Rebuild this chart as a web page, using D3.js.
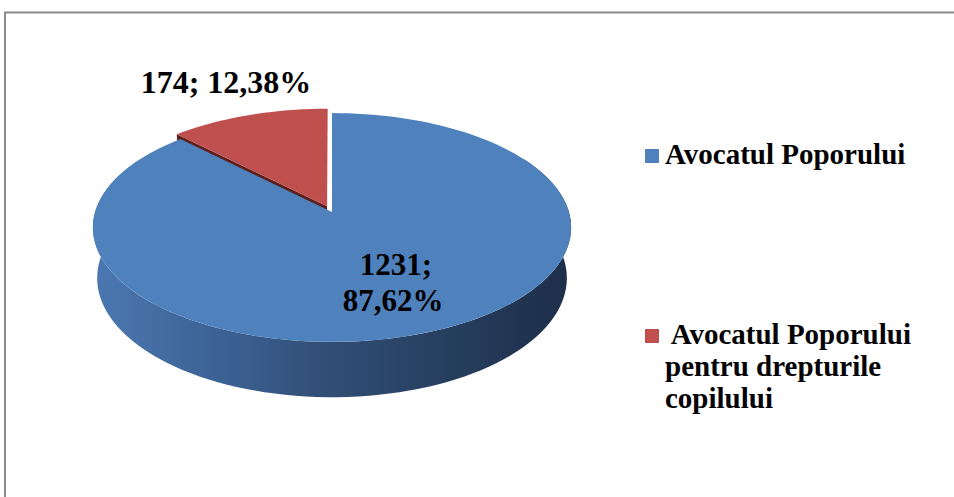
<!DOCTYPE html>
<html>
<head>
<meta charset="utf-8">
<script src="https://cdn.jsdelivr.net/npm/d3@7"></script>
<style>
  html, body { margin: 0; padding: 0; background: #ffffff; }
  svg { display: block; }
</style>
</head>
<body>
<svg id="chart" width="954" height="497"></svg>
<script>
// ---------- data ----------
const categories = ["Avocatul Poporului", "Avocatul Poporului pentru drepturile copilului"];
const values = [1231, 174];
const topColors = ["#4F81BD", "#C0504D"];
const wallColors = ["#2f4b71", "#5e1f1d"];
const explode = [0, 0.055];
const legendLines = [["Avocatul Poporului"], [" Avocatul Poporului", "pentru drepturile", "copilului"]];

// ---------- layout ----------
const FONT = "'Liberation Serif', 'Times New Roman', 'DejaVu Serif', serif";
const svg = d3.select("#chart");
const cx0 = 332, cy0 = 212, F = 1540, D = 6.5, R = 1, depth = 0.245;
const sinT = 0.474, cosT = Math.sqrt(1 - sinT * sinT);
const camPos = [0, D * sinT, D * cosT];

const locale = d3.formatLocale({decimal: ",", thousands: ".", grouping: [3], currency: ["", ""]});
const pctFmt = locale.format(".2f");
const total = d3.sum(values);

function proj(X, Y, Z) {
  const dd = D - Y * sinT - Z * cosT;
  return [cx0 + F * X / dd, cy0 - F * (Y * cosT - Z * sinT) / dd];
}
function dir(a) { return [Math.sin(a), -Math.cos(a)]; }

const pie = d3.pie().sort(null).startAngle(0).endAngle(2 * Math.PI);
const arcs = pie(values).map((p, i) => {
  const mid = (p.startAngle + p.endAngle) / 2;
  const m = dir(mid);
  return Object.assign(p, {i, ox: m[0] * explode[i], oz: m[1] * explode[i]});
});

const line = d3.line();
const N = 160;
function arcPts(p, a0, a1, Y) {
  const n = Math.max(2, Math.ceil(N * (a1 - a0) / (2 * Math.PI)));
  return d3.range(n + 1).map(k => {
    const a = a0 + (a1 - a0) * k / n;
    const d = dir(a);
    return proj(p.ox + R * d[0], Y, p.oz + R * d[1]);
  });
}

// border
svg.append("rect").attr("x", 5).attr("y", 12.5).attr("width", 1200).attr("height", 800)
  .attr("fill", "none").attr("stroke", "#8a8a8a").attr("stroke-width", 2);

// gradient for sides
const defs = svg.append("defs");
const grad = defs.append("linearGradient").attr("id", "sideGrad0")
  .attr("gradientUnits", "userSpaceOnUse").attr("x1", 93).attr("x2", 572).attr("y1", 0).attr("y2", 0);
[["0", "#4b78b2"], ["0.25", "#3d6396"], ["0.5", "#304d74"], ["0.75", "#263e5e"], ["1", "#1d2e48"]]
  .forEach(s => grad.append("stop").attr("offset", s[0]).attr("stop-color", s[1]));
const grad1 = defs.append("linearGradient").attr("id", "sideGrad1")
  .attr("gradientUnits", "userSpaceOnUse").attr("x1", 93).attr("x2", 572).attr("y1", 0).attr("y2", 0);
[["0", "#b04a47"], ["1", "#5e1f1d"]].forEach(s => grad1.append("stop").attr("offset", s[0]).attr("stop-color", s[1]));

const g = svg.append("g");

// radial walls (visible ones)
arcs.forEach(p => {
  [[p.startAngle, -1], [p.endAngle, 1]].forEach(([a, s]) => {
    const n = dir(a + s * Math.PI / 2);
    const v = [camPos[0] - p.ox, camPos[2] - p.oz];
    if (n[0] * v[0] + n[1] * v[1] > 0.05) {
      const d = dir(a);
      const pts = [
        proj(p.ox, 0, p.oz), proj(p.ox + R * d[0], 0, p.oz + R * d[1]),
        proj(p.ox + R * d[0], -depth, p.oz + R * d[1]), proj(p.ox, -depth, p.oz)
      ];
      g.append("path").attr("d", line(pts) + "Z").attr("fill", wallColors[p.i]);
    }
  });
});

// outer sides (front part)
arcs.forEach(p => {
  const a0 = Math.max(p.startAngle, Math.PI / 3), a1 = Math.min(p.endAngle, 5 * Math.PI / 3);
  if (a1 <= a0) return;
  const top = arcPts(p, a0, a1, 0);
  const bot = arcPts(p, a0, a1, -depth).reverse();
  g.append("path").attr("d", line(top.concat(bot)) + "Z").attr("fill", `url(#sideGrad${p.i})`);
});

// top faces
arcs.forEach(p => {
  const pts = [proj(p.ox, 0, p.oz)].concat(arcPts(p, p.startAngle, p.endAngle, 0));
  g.append("path").attr("d", line(pts) + "Z").attr("fill", topColors[p.i]);
});

// data labels
const labelText = values.map(v => [v + ";", pctFmt(v / total * 100) + "%"]);
const lbl0 = svg.append("text").attr("text-anchor", "middle")
  .attr("font-family", FONT).attr("font-weight", "bold").attr("font-size", 31).attr("fill", "#000");
lbl0.append("tspan").attr("x", 396).attr("y", 275).text(labelText[0][0]);
lbl0.append("tspan").attr("x", 393).attr("y", 311).text(labelText[0][1]);
svg.append("text").attr("text-anchor", "middle")
  .attr("font-family", FONT).attr("font-weight", "bold").attr("font-size", 32).attr("fill", "#000")
  .attr("x", 226).attr("y", 93).text(labelText[1][0] + " " + labelText[1][1]);

// legend
const legendY = [149, 329];
const lg = svg.append("g");
categories.forEach((c, i) => {
  lg.append("rect").attr("x", 645).attr("y", legendY[i]).attr("width", 14).attr("height", 14)
    .attr("fill", topColors[i]);
  const t = lg.append("text").attr("font-family", FONT).attr("font-weight", "bold")
    .attr("font-size", 29).attr("fill", "#000").style("white-space", "pre");
  legendLines[i].forEach((l, k) => {
    t.append("tspan").attr("x", 665).attr("y", legendY[i] + 15 + k * 32).text(l);
  });
});
</script>
</body>
</html>
